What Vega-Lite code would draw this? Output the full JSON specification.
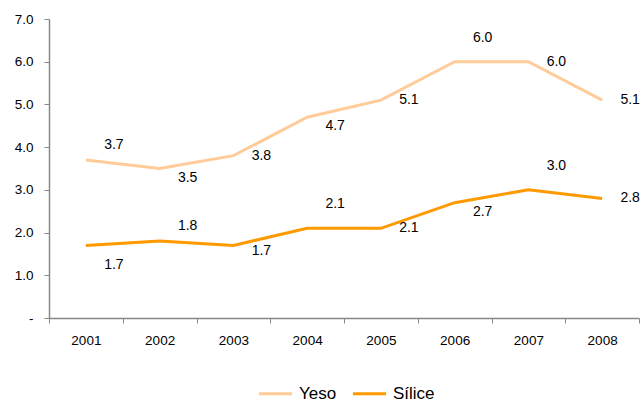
{
  "$schema": "https://vega.github.io/schema/vega-lite/v6.json",
  "width": 590,
  "height": 299,
  "autosize": {"type": "none"},
  "padding": {"left": 49, "top": 19, "right": 3, "bottom": 86},
  "background": "white",
  "config": {
    "view": {"stroke": null},
    "font": "Liberation Sans",
    "axis": {"labelFont": "Liberation Sans", "labelFontSize": 13.5, "labelColor": "#000000", "domainColor": "#888888", "tickColor": "#888888", "grid": false, "title": null},
    "text": {"dx": 28, "fontSize": 14, "font": "Liberation Sans", "color": "#000000", "baseline": "middle"}
  },
  "data": {
    "values": [
      {"year": "2001", "series": "Yeso", "value": 3.7, "pos": "a1"},
      {"year": "2002", "series": "Yeso", "value": 3.5, "pos": "b1"},
      {"year": "2003", "series": "Yeso", "value": 3.8, "pos": "r"},
      {"year": "2004", "series": "Yeso", "value": 4.7, "pos": "b1"},
      {"year": "2005", "series": "Yeso", "value": 5.1, "pos": "r"},
      {"year": "2006", "series": "Yeso", "value": 6.0, "pos": "a2"},
      {"year": "2007", "series": "Yeso", "value": 6.0, "pos": "r"},
      {"year": "2008", "series": "Yeso", "value": 5.1, "pos": "r"},
      {"year": "2001", "series": "Sílice", "value": 1.7, "pos": "b2"},
      {"year": "2002", "series": "Sílice", "value": 1.8, "pos": "a1"},
      {"year": "2003", "series": "Sílice", "value": 1.7, "pos": "b0"},
      {"year": "2004", "series": "Sílice", "value": 2.1, "pos": "a2"},
      {"year": "2005", "series": "Sílice", "value": 2.1, "pos": "r"},
      {"year": "2006", "series": "Sílice", "value": 2.7, "pos": "b1"},
      {"year": "2007", "series": "Sílice", "value": 3.0, "pos": "a2"},
      {"year": "2008", "series": "Sílice", "value": 2.8, "pos": "r"}
    ]
  },
  "encoding": {
    "x": {
      "field": "year", "type": "ordinal",
      "scale": {"paddingInner": 0, "paddingOuter": 0},
      "axis": {"labelAngle": 0, "tickBand": "extent", "tickSize": 5, "labelPadding": 10, "domainWidth": 1.5}
    },
    "y": {
      "field": "value", "type": "quantitative",
      "scale": {"domain": [0, 7], "nice": false, "zero": true},
      "axis": {"values": [0, 1, 2, 3, 4, 5, 6, 7], "tickSize": 5, "labelPadding": 11, "domainWidth": 1.5,
               "labelExpr": "datum.value == 0 ? '-' : format(datum.value, '.1f')"}
    }
  },
  "layer": [
    {
      "mark": {"type": "line", "strokeWidth": 3},
      "encoding": {
        "color": {
          "field": "series", "type": "nominal",
          "scale": {"domain": ["Yeso", "Sílice"], "range": ["#FFCC99", "#FF9900"]},
          "legend": {
            "orient": "none", "legendX": 208, "legendY": 356, "direction": "horizontal",
            "title": null, "symbolType": "stroke", "symbolSize": 1100, "symbolStrokeWidth": 3,
            "labelFontSize": 17, "labelFont": "Liberation Sans", "labelColor": "#000000", "labelOffset": 5,
            "columnPadding": 9, "padding": 0
          }
        }
      }
    },
    {
      "transform": [{"filter": "datum.pos == 'a2'"}],
      "mark": {"type": "text", "dy": -24},
      "encoding": {"text": {"field": "value", "type": "quantitative", "format": ".1f"}}
    },
    {
      "transform": [{"filter": "datum.pos == 'a1'"}],
      "mark": {"type": "text", "dy": -15},
      "encoding": {"text": {"field": "value", "type": "quantitative", "format": ".1f"}}
    },
    {
      "transform": [{"filter": "datum.pos == 'r'"}],
      "mark": {"type": "text", "dy": 0},
      "encoding": {"text": {"field": "value", "type": "quantitative", "format": ".1f"}}
    },
    {
      "transform": [{"filter": "datum.pos == 'b0'"}],
      "mark": {"type": "text", "dy": 6},
      "encoding": {"text": {"field": "value", "type": "quantitative", "format": ".1f"}}
    },
    {
      "transform": [{"filter": "datum.pos == 'b1'"}],
      "mark": {"type": "text", "dy": 9},
      "encoding": {"text": {"field": "value", "type": "quantitative", "format": ".1f"}}
    },
    {
      "transform": [{"filter": "datum.pos == 'b2'"}],
      "mark": {"type": "text", "dy": 20},
      "encoding": {"text": {"field": "value", "type": "quantitative", "format": ".1f"}}
    }
  ]
}
